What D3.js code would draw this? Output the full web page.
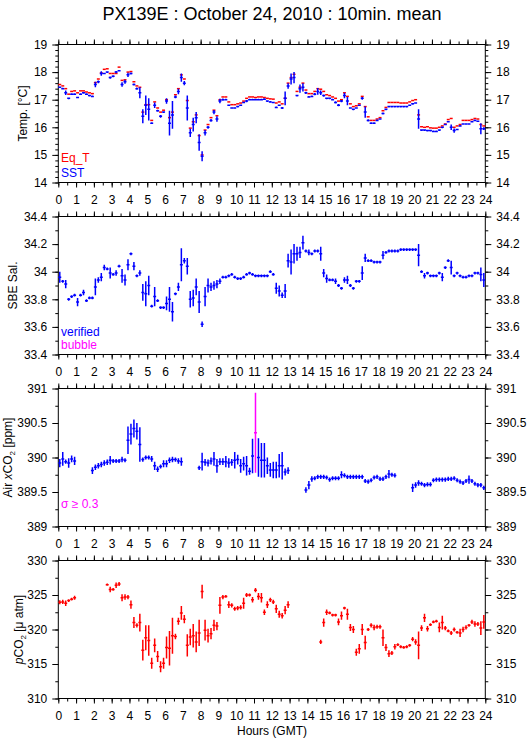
<!DOCTYPE html>
<html><head><meta charset="utf-8">
<script src="https://cdn.jsdelivr.net/npm/d3@7"></script>
<style>body{margin:0;background:#fff}svg{display:block}</style>
</head><body><svg id="c" width="529" height="739"></svg>
<script>
const FONT = '"Liberation Sans", Arial, Helvetica, sans-serif';
const titleText = "PX139E : October 24, 2010 : 10min. mean";
const xTitle = "Hours (GMT)";
const hourTicks = [0,1,2,3,4,5,6,7,8,9,10,11,12,13,14,15,16,17,18,19,20,21,22,23,24];
const tempTicks = [14,15,16,17,18,19];
const salTicks = [33.4,33.6,33.8,34,34.2,34.4];
const airTicks = [389,389.5,390,390.5,391];
const pco2Ticks = [310,315,320,325,330];

// 10-minute slots (index 0..143 -> 00:00..23:50 GMT)
const sst = [
17.45,17.40,17.25,17.05,17.20,17.20,17.08,17.20,17.25,17.20,17.15,17.12,
17.55,17.65,17.95,17.95,18.00,17.80,17.85,18.00,18.05,17.55,17.65,17.90,
17.95,17.55,17.40,17.25,16.40,16.80,16.65,16.15,16.80,16.60,16.40,16.55,
16.95,16.15,16.45,17.10,17.30,17.80,17.60,16.70,15.80,16.10,16.35,15.45,
14.95,15.80,16.00,16.25,16.55,16.30,16.95,17.00,17.00,16.80,16.70,16.70,
16.75,16.80,16.90,16.95,17.00,17.00,17.00,17.00,17.00,17.02,16.95,16.92,
16.90,16.72,16.80,16.70,17.05,17.50,17.75,17.80,17.15,17.40,17.45,17.25,
17.10,17.12,17.20,17.30,17.25,17.15,17.05,17.05,17.00,16.90,16.80,16.95,
17.15,16.95,16.70,16.65,16.70,16.80,17.05,16.55,16.25,16.15,16.15,16.25,
16.30,16.50,16.65,16.75,16.75,16.75,16.75,16.75,16.75,16.75,16.80,16.85,
16.88,16.30,15.90,15.90,15.88,15.88,15.85,15.85,15.90,16.00,16.10,16.20,
16.00,15.88,15.92,16.05,16.12,16.12,16.12,16.20,16.25,16.22,15.95,15.95];
const sstErr = [
.03,.03,.08,.03,.03,.03,.03,.03,.03,.03,.03,.03,
.10,.05,.08,.03,.03,.04,.04,.04,.03,.08,.07,.08,
.04,.04,.04,.20,.25,.35,.40,.03,.10,.04,.05,.03,
.10,.45,.50,.05,.10,.15,.08,.45,.15,.25,.20,.30,
.18,.10,.05,.05,.08,.10,.08,.04,.03,.03,.03,.03,
.03,.03,.03,.04,.03,.03,.03,.03,.03,.03,.03,.03,
.03,.03,.03,.04,.25,.10,.20,.20,.03,.15,.15,.04,
.03,.03,.04,.12,.08,.04,.03,.03,.03,.04,.04,.04,
.10,.15,.03,.03,.03,.03,.05,.20,.04,.03,.03,.03,
.03,.04,.03,.03,.03,.03,.03,.03,.03,.03,.03,.03,
.03,.35,.03,.03,.03,.03,.03,.03,.03,.03,.03,.03,
.10,.08,.03,.03,.03,.03,.03,.03,.03,.03,.20,.05];
const eqT = [
17.55,17.50,17.40,17.20,17.30,17.32,17.25,17.32,17.32,17.28,17.25,17.22,
17.62,17.75,17.97,18.10,18.12,17.95,17.95,17.95,18.18,17.70,17.72,18.00,
18.02,17.65,17.50,17.45,16.55,16.82,16.82,16.25,16.92,16.70,16.55,16.62,
17.00,16.35,16.55,17.18,17.40,17.90,17.75,16.97,15.97,16.20,16.45,15.70,
15.00,15.90,16.10,16.35,16.62,16.42,17.00,17.10,17.10,16.92,16.82,16.82,
16.85,16.88,16.95,17.05,17.10,17.10,17.08,17.10,17.10,17.08,17.05,17.03,
17.02,16.88,16.92,16.85,17.05,17.60,17.80,17.92,17.30,17.45,17.60,17.35,
17.22,17.22,17.30,17.40,17.38,17.30,17.18,17.15,17.10,17.05,16.95,17.00,
17.25,17.12,16.85,16.75,16.78,16.85,17.12,16.75,16.38,16.25,16.25,16.30,
16.35,16.60,16.72,16.90,16.90,16.90,16.90,16.88,16.88,16.88,16.92,16.97,
17.00,16.45,16.02,16.00,16.02,15.98,15.97,15.97,16.00,16.05,16.12,16.28,
16.32,16.00,16.05,16.10,16.25,16.25,16.25,16.28,16.32,16.30,16.10,16.05];
const sal = [
33.96,33.93,33.91,33.80,33.82,33.83,33.78,33.83,33.85,33.79,33.81,33.81,
33.89,33.94,33.96,34.03,34.02,33.99,33.98,33.99,34.04,33.97,33.94,34.05,
34.13,34.04,33.97,33.99,33.85,33.84,33.90,33.75,33.82,33.79,33.74,33.74,
33.77,33.80,33.71,33.84,33.89,34.05,34.08,34.04,33.80,33.81,33.89,33.78,
33.62,33.82,33.90,33.89,33.90,33.91,33.93,33.96,33.96,33.97,33.98,33.96,
33.95,33.95,33.96,33.98,33.99,33.98,33.97,33.97,33.97,33.97,33.97,34.00,
33.98,33.88,33.86,33.83,33.86,34.08,34.07,34.13,34.13,34.14,34.21,34.15,
34.14,34.13,34.15,34.15,34.13,33.99,33.95,33.94,33.94,33.93,33.90,33.88,
33.94,33.94,33.90,33.88,33.93,33.93,33.99,34.10,34.08,34.08,34.07,34.07,
34.07,34.12,34.14,34.15,34.15,34.15,34.15,34.16,34.16,34.16,34.16,34.16,
34.16,34.12,34.00,33.97,33.99,33.97,33.97,33.97,33.99,33.96,34.03,34.08,
34.03,33.97,33.99,33.97,33.96,33.96,33.97,33.97,33.99,33.99,33.98,33.94];
const salErr = [
.04,.01,.03,.01,.01,.01,.03,.01,.02,.01,.01,.01,
.06,.02,.03,.02,.01,.04,.01,.02,.01,.05,.04,.04,
.01,.03,.01,.02,.06,.09,.07,.01,.07,.01,.01,.01,
.05,.09,.07,.01,.03,.12,.02,.06,.06,.06,.06,.08,
.02,.07,.05,.03,.03,.03,.02,.01,.01,.01,.01,.01,
.01,.01,.01,.01,.01,.01,.01,.01,.01,.01,.01,.01,
.01,.04,.04,.02,.05,.05,.09,.07,.05,.04,.05,.01,
.02,.01,.01,.01,.05,.03,.03,.01,.01,.02,.01,.01,
.02,.03,.01,.01,.01,.01,.05,.03,.01,.01,.01,.01,
.01,.03,.01,.01,.01,.01,.01,.01,.01,.01,.01,.01,
.01,.08,.01,.02,.01,.01,.01,.01,.01,.03,.01,.01,
.05,.01,.01,.01,.01,.01,.01,.01,.01,.01,.05,.05];
const N = null;
const airCO2 = [
389.92,389.98,389.94,389.92,389.98,389.95,N,N,N,N,N,389.81,
389.86,389.88,389.90,389.92,389.93,389.96,389.95,389.95,389.95,389.97,389.96,390.25,
390.34,390.42,390.38,390.19,389.97,390.00,390.00,389.98,389.88,389.83,389.87,389.91,
389.91,389.96,389.97,389.97,389.95,389.94,N,N,N,N,N,389.85,
389.94,389.93,389.92,389.95,389.98,389.88,389.94,389.94,389.94,389.92,389.93,389.96,
389.97,389.88,389.91,389.88,389.80,390.02,390.36,390.00,389.96,389.96,389.88,389.82,
389.82,389.82,389.88,389.88,389.79,389.81,N,N,N,N,N,389.53,
389.60,389.69,389.70,389.72,389.72,389.72,389.71,389.68,389.70,389.70,389.70,389.75,
389.74,389.72,389.72,389.72,389.72,389.72,389.72,389.66,389.65,389.67,389.71,389.72,
389.69,389.69,389.72,389.76,389.75,389.74,N,N,N,N,N,389.56,
389.60,389.63,389.62,389.60,389.61,389.61,389.67,389.68,389.68,389.68,389.68,389.69,
389.69,389.70,389.67,389.65,389.63,389.66,389.68,389.66,389.62,389.60,389.60,389.56];
const airErr = [
.06,.10,.03,.07,.05,.06,0,0,0,0,0,.05,
.04,.04,.04,.04,.04,.06,.03,.03,.03,.04,.03,.20,
.15,.13,.12,.25,.03,.03,.03,.04,.06,.04,.03,.05,
.05,.04,.04,.03,.04,.06,0,0,0,0,0,.03,
.13,.05,.05,.05,.10,.10,.05,.05,.08,.07,.05,.12,
.07,.10,.10,.14,.05,.25,.58,.28,.25,.25,.12,.10,
.12,.12,.17,.20,.05,.05,0,0,0,0,0,.04,
.06,.04,.03,.03,.03,.03,.03,.03,.03,.03,.03,.05,
.03,.03,.03,.03,.03,.03,.03,.03,.03,.03,.03,.03,
.03,.03,.03,.06,.03,.03,0,0,0,0,0,.06,
.04,.04,.03,.03,.03,.03,.03,.03,.03,.03,.03,.03,
.03,.03,.03,.03,.03,.03,.06,.03,.03,.03,.03,.03];
const pco2 = [
323.95,324.00,323.80,324.20,324.40,324.60,N,N,N,N,N,N,
N,N,N,N,326.50,325.80,325.80,326.40,326.60,324.60,324.70,324.70,
323.60,321.00,320.60,321.00,317.00,318.80,318.40,315.10,317.70,316.10,314.60,315.10,
317.40,317.30,319.10,319.00,321.20,322.40,321.50,317.70,318.90,319.10,318.20,319.50,
325.50,319.90,319.10,319.40,320.60,320.50,323.50,324.70,324.80,323.60,323.50,323.00,
323.10,323.20,323.80,325.00,325.00,324.30,325.70,324.80,324.60,322.50,323.60,324.30,
324.00,323.00,322.20,322.00,322.80,323.60,N,N,N,N,N,N,
N,N,N,N,318.20,321.00,322.50,322.40,322.10,322.10,321.10,322.00,
323.10,322.20,320.30,320.00,316.70,317.20,320.00,318.10,320.00,320.60,320.30,320.40,
320.40,318.80,317.40,316.50,316.60,317.50,317.80,317.50,317.40,317.50,317.70,318.60,
318.20,317.70,320.20,321.70,320.10,320.70,321.10,321.20,320.30,321.00,320.20,319.80,
319.50,320.00,319.60,319.50,320.00,320.30,320.60,321.10,320.80,320.80,320.20,321.10];
const pco2Err = [
.3,.3,.4,.2,.2,.3,0,0,0,0,0,0,
0,0,0,0,.15,.4,.2,.4,.3,.5,.4,.3,
.6,.8,.3,1.3,1.5,1.8,2.2,.8,1.0,.8,.8,.8,
1.6,2.5,2.6,.4,.5,1.0,.6,1.6,1.2,1.7,1.5,1.9,
1.0,1.5,1.0,.8,.8,.6,1.2,.3,.2,.5,.3,.3,
.3,.3,.8,.3,.2,.4,.3,.5,.7,.4,.5,.3,
.3,.6,.5,.4,.6,.5,0,0,0,0,0,0,
0,0,0,0,.3,.6,.4,.2,.2,.2,.5,.6,
.2,.8,.5,.5,.5,.7,.8,1.0,.2,.3,.4,.3,
.3,1.2,.5,.5,.3,.4,.2,.2,.2,.2,.2,.3,
.4,2.0,.4,.6,.4,.2,.2,.2,.7,1.0,.3,.2,
.3,.3,.2,.6,.4,.3,.2,.3,.4,.3,1.0,1.0];

[sst,sstErr,eqT,sal,salErr,airCO2,airErr,pco2,pco2Err].forEach((a,k)=>{ if(a.length!==144) throw new Error("array "+k+" has "+a.length); });

const BLUE="#0000ff", RED="#ff0000", MAG="#ff00ff";
const slotHours = d3.range(144).map(i => (i + 0.5) / 6);
const svg = d3.select("#c");
svg.append("rect").attr("width",529).attr("height",739).attr("fill","#fff");
const x = d3.scaleLinear().domain([0,24]).range([58.3,485.3]);
const PH = 138;

svg.append("text").attr("x",272).attr("y",20).attr("text-anchor","middle")
  .attr("font-family",FONT).attr("font-size",18).text(titleText);

function styleAxis(g){
  g.select(".domain").remove();
  g.attr("font-family",FONT).attr("font-size",12);
  g.selectAll("line").attr("stroke","#000");
  g.selectAll("text").attr("fill","#000");
}

function panel(top, domain, majors, minorStep, labelX, labelNodes){
  const y = d3.scaleLinear().domain(domain).range([top+PH, top]);
  const g = svg.append("g");
  const minors = d3.range(domain[0], domain[1]+1e-9, minorStep).map(v=>+v.toFixed(4));
  const xMinor = d3.range(0, 24.01, 0.5);
  // minor ticks
  g.append("g").attr("transform",`translate(${x(0)},0)`).call(d3.axisLeft(y).tickValues(minors).tickSize(3).tickFormat("")).call(styleAxis);
  g.append("g").attr("transform",`translate(${x(24)},0)`).call(d3.axisRight(y).tickValues(minors).tickSize(3).tickFormat("")).call(styleAxis);
  g.append("g").attr("transform",`translate(0,${top})`).call(d3.axisTop(x).tickValues(xMinor).tickSize(3).tickFormat("")).call(styleAxis);
  g.append("g").attr("transform",`translate(0,${top+PH})`).call(d3.axisBottom(x).tickValues(xMinor).tickSize(3).tickFormat("")).call(styleAxis);
  // major ticks
  g.append("g").attr("transform",`translate(${x(0)},0)`).call(d3.axisLeft(y).tickValues(majors).tickSize(6).tickPadding(5).tickFormat(d=>String(d))).call(styleAxis);
  g.append("g").attr("transform",`translate(${x(24)},0)`).call(d3.axisRight(y).tickValues(majors).tickSize(6).tickPadding(5).tickFormat(d=>String(d))).call(styleAxis);
  g.append("g").attr("transform",`translate(0,${top})`).call(d3.axisTop(x).tickValues(hourTicks).tickSize(5).tickFormat("")).call(styleAxis);
  g.append("g").attr("transform",`translate(0,${top+PH})`).call(d3.axisBottom(x).tickValues(hourTicks).tickSize(5).tickPadding(7.5).tickFormat(d3.format("d"))).call(styleAxis);
  g.append("rect").attr("x",x(0)).attr("y",top).attr("width",x(24)-x(0)).attr("height",PH)
    .attr("fill","none").attr("stroke","#000").attr("stroke-width",1);
  // y label
  const t = svg.append("text").attr("font-family",FONT).attr("font-size",12)
    .attr("text-anchor","middle")
    .attr("transform",`translate(${labelX},${top+PH/2}) rotate(-90)`);
  labelNodes.forEach(n=>{
    const s = t.append("tspan").text(n.t);
    if(n.it) s.attr("font-style","italic");
    if(n.sub) s.attr("font-size",8).attr("baseline-shift","-3");
  });
  return y;
}

function marks(y, vals, errs, colorFn){
  const g = svg.append("g").attr("fill","none").attr("stroke-width",1.5);
  vals.forEach((v,i)=>{
    if(v==null) return;
    const t = slotHours[i], e = errs ? errs[i] : 0;
    let d = `M${x(t-1/12)},${y(v)}H${x(t+1/12)}`;
    if(e>0) d += `M${x(t)},${y(v-e)}V${y(v+e)}`;
    g.append("path").attr("d",d).attr("stroke",colorFn(i,e));
  });
}

function legend(x0, y0, txt, col){
  svg.append("text").attr("x",x0).attr("y",y0).attr("font-family",FONT).attr("font-size",12)
    .attr("fill",col).text(txt);
}

// Panel 1: temperature
const y1 = panel(44.5,[14,19],tempTicks,0.2,27,[{t:"Temp. [°C]"}]);
marks(y1, eqT, null, ()=>RED);
marks(y1, sst, sstErr, ()=>BLUE);
legend(61,162,"Eq_T",RED);
legend(61,177,"SST",BLUE);

// Panel 2: salinity
const y2 = panel(216.5,[33.4,34.4],salTicks,0.1,17,[{t:"SBE Sal."}]);
marks(y2, sal, salErr, ()=>BLUE);
legend(61,336,"verified",BLUE);
legend(61,349,"bubble",MAG);

// Panel 3: air xCO2
const y3 = panel(388.5,[389,391],airTicks,0.25,11.5,[{t:"Air "},{t:"x",it:true},{t:"CO"},{t:"2",sub:true},{t:" [ppm]"}]);
marks(y3, airCO2, airErr, (i,e)=> e>=0.3 ? MAG : BLUE);
legend(61,508,"σ ≥ 0.3",MAG);

// Panel 4: pCO2
const y4 = panel(560.5,[310,330],pco2Ticks,2.5,23,[{t:"p",it:true},{t:"CO"},{t:"2",sub:true},{t:" [μ atm]"}]);
marks(y4, pco2, pco2Err, ()=>RED);

svg.append("text").attr("x",272).attr("y",735).attr("text-anchor","middle")
  .attr("font-family",FONT).attr("font-size",12).text(xTitle);
</script></body></html>
